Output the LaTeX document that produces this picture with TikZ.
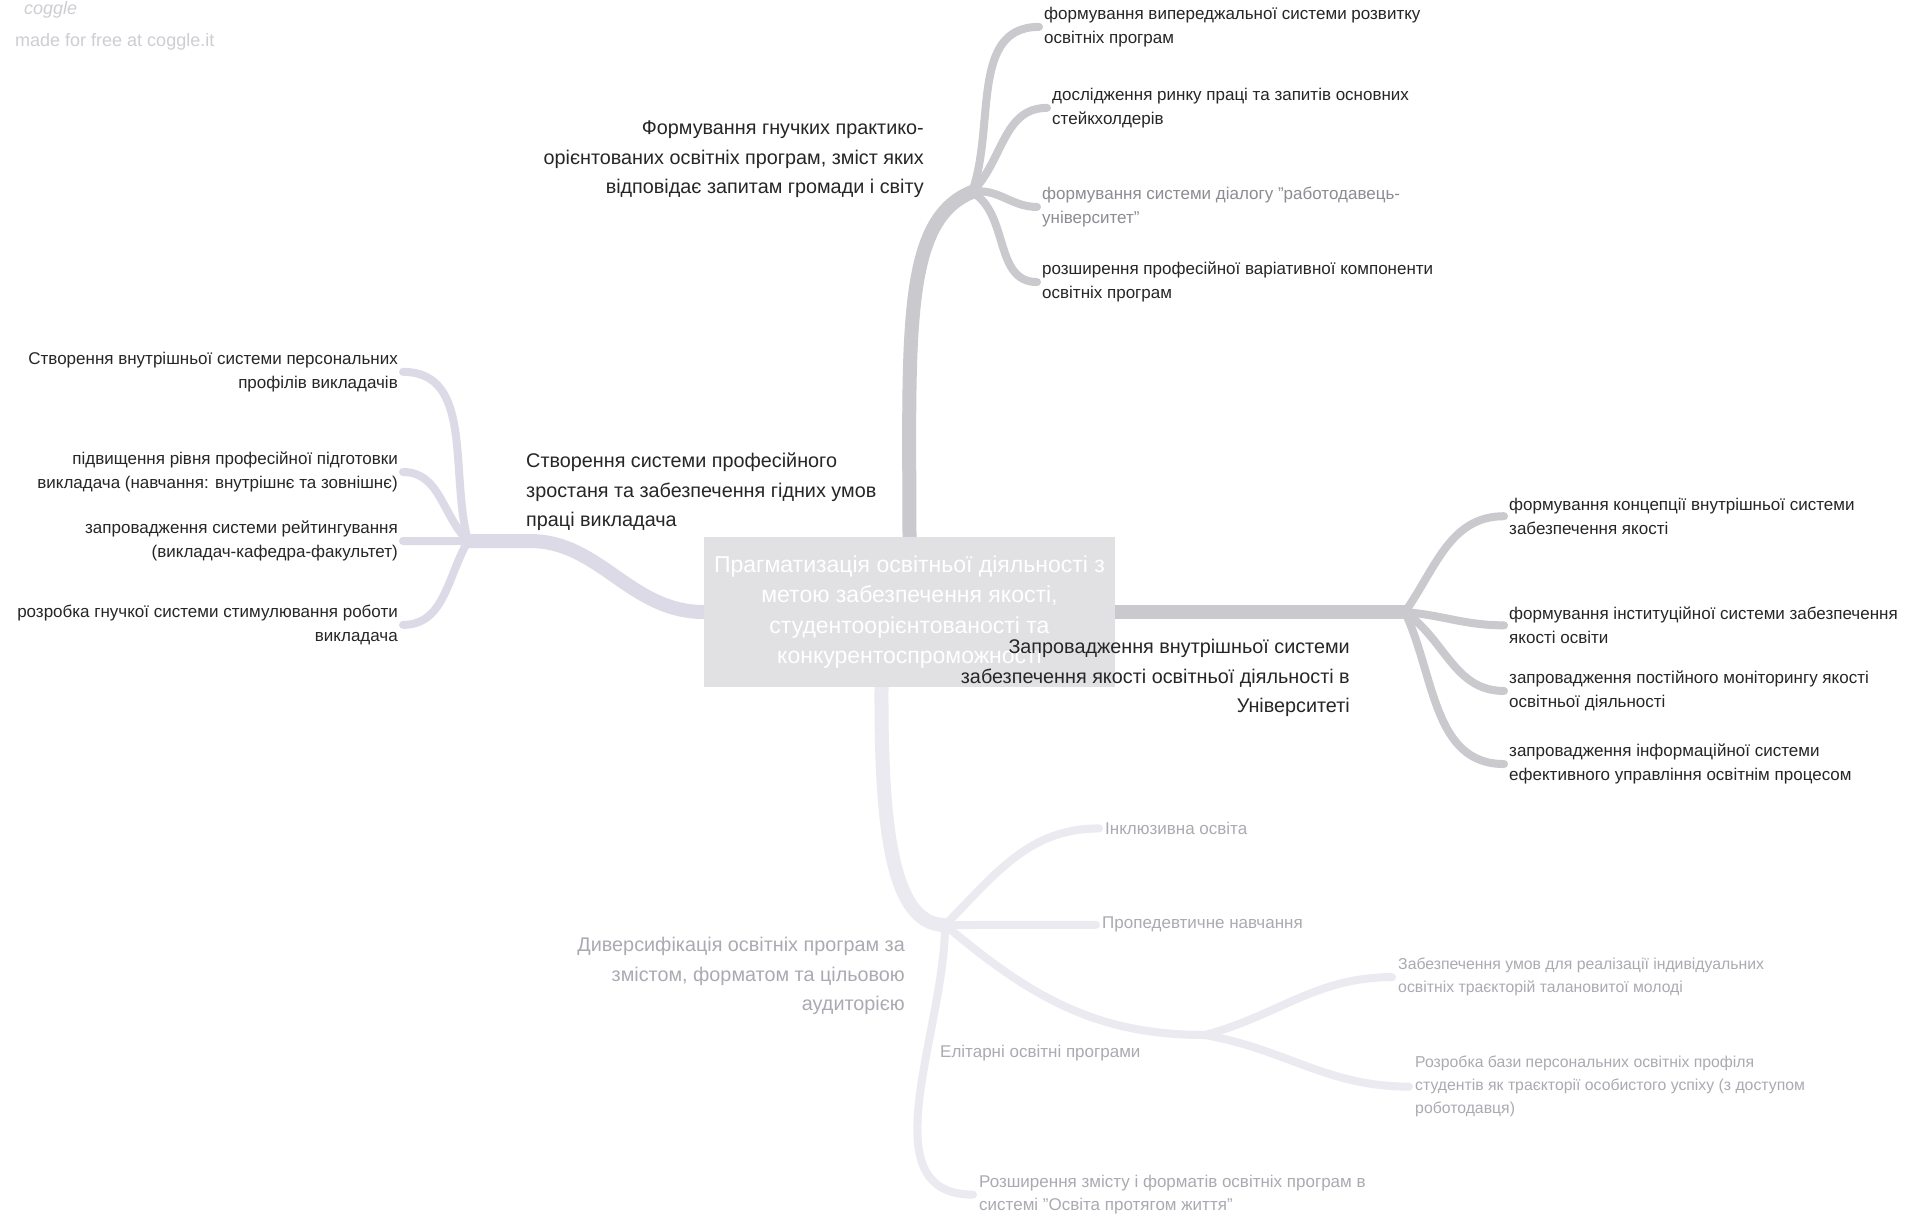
\documentclass[tikz,border=0pt]{standalone}
\usepackage{fontspec}
\setmainfont{Liberation Sans}
\usetikzlibrary{positioning,backgrounds}

\definecolor{branchgrey}{HTML}{C9C9CE}
\definecolor{branchlilac}{HTML}{DCDAE6}
\definecolor{branchpale}{HTML}{EAEAF0}
\definecolor{centrefill}{HTML}{E1E1E4}
\definecolor{inkdark}{HTML}{262626}
\definecolor{inkgrey}{HTML}{8C8C92}
\definecolor{inkpale}{HTML}{AAAAB2}
\definecolor{logogrey}{HTML}{CDCDD4}

\begin{document}
\begin{tikzpicture}[
    x=1pt, y=-1pt,
    every node/.style={inner sep=0pt},
    centrebox/.style={fill=centrefill, text=white, align=center, minimum width=411pt, minimum height=150pt, font=\fontsize{23}{30.5}\selectfont},
    mainlabel/.style={text=inkdark, font=\fontsize{19.8}{29.5}\selectfont},
    leaf/.style={text=inkdark, align=left, anchor=north west, font=\fontsize{17}{23.5}\selectfont},
    leafleft/.style={leaf, align=right, anchor=north east},
    paleleaf/.style={leaf, text=inkpale, font=\fontsize{17}{23}\selectfont},
    trunk/.style={line width=14pt, line cap=round, draw=branchgrey},
    twig/.style={line width=8pt, line cap=round, draw=branchgrey}
]
\useasboundingbox (0,0) rectangle (1914,1219);

% credit
\node[text=logogrey, font=\itshape\fontsize{18}{18}\selectfont, anchor=base west] (logo) at (24,14) {coggle};
\node[text=logogrey, font=\fontsize{18}{20}\selectfont, anchor=north west] (credit) at (15,33) {made for free at coggle.it};

% centre
\node[centrebox] (centre) at (909.5,612) {Прагматизація освітньої діяльності з\\ метою забезпечення якості,\\ студентоорієнтованості та\\ конкурентоспроможності};

% top branch
\node[mainlabel, align=right, anchor=north east] (progs) at (924,121) {Формування гнучких практико-\\ орієнтованих освітніх програм, зміст яких\\ відповідає запитам громади і світу};
\node[leaf] (tl1) at (1044,7) {формування випереджальної системи розвитку\\ освітніх програм};
\node[leaf] (tl2) at (1052,88) {дослідження ринку праці та запитів основних\\ стейкхолдерів};
\node[leaf, text=inkgrey] (tl3) at (1042,187) {формування системи діалогу "работодавець-\\ університет"};
\node[leaf] (tl4) at (1042,262) {розширення професійної варіативної компоненти\\ освітніх програм};

% left branch
\node[mainlabel, align=left, anchor=north west] (staff) at (526,453) {Створення системи професійного\\ зростаня та забезпечення гідних умов\\ праці викладача};
\node[leafleft] (ll1) at (398,352) {Створення внутрішньої системи персональних\\ профілів викладачів};
\node[leafleft] (ll2) at (398,452) {підвищення рівня професійної підготовки\\ викладача (навчання: внутрішнє та зовнішнє)};
\node[leafleft] (ll3) at (398,521) {запровадження системи рейтингування\\ (викладач-кафедра-факультет)};
\node[leafleft] (ll4) at (398,605) {розробка гнучкої системи стимулювання роботи\\ викладача};

% right branch
\node[mainlabel, align=right, anchor=north east] (quality) at (1350,639) {Запровадження внутрішньої системи\\ забезпечення якості освітньої діяльності в\\ Університеті};
\node[leaf] (rl1) at (1509,498) {формування концепції внутрішньої системи\\ забезпечення якості};
\node[leaf] (rl2) at (1509,607) {формування інституційної системи забезпечення\\ якості освіти};
\node[leaf] (rl3) at (1509,671) {запровадження постійного моніторингу якості\\ освітньої діяльності};
\node[leaf] (rl4) at (1509,744) {запровадження інформаційної системи\\ ефективного управління освітнім процесом};

% bottom branch
\node[mainlabel, text=inkpale, align=right, anchor=north east] (divers) at (905,937) {Диверсифікація освітніх програм за\\ змістом, форматом та цільовою\\ аудиторією};
\node[paleleaf] (bl1) at (1105,822) {Інклюзивна освіта};
\node[paleleaf] (bl2) at (1102,917) {Пропедевтичне навчання};
\node[paleleaf] (bl3) at (940,1045) {Елітарні освітні програми};
\node[paleleaf, font=\fontsize{15.8}{23}\selectfont] (bl4) at (1398,958) {Забезпечення умов для реалізації індивідуальних\\ освітніх траєкторій талановитої молоді};
\node[paleleaf, font=\fontsize{15.8}{23}\selectfont] (bl5) at (1415,1056) {Розробка бази персональних освітніх профіля\\ студентів як траєкторії особистого успіху (з доступом\\ роботодавця)};
\node[paleleaf] (bl6) at (979,1175) {Розширення змісту і форматів освітніх програм в\\ системі "Освіта протягом життя"};

\begin{pgfonlayer}{background}
\fill[white] (0,0) rectangle (1914,1219);
% top
\coordinate (jtop) at (972,192);
\draw[trunk] (centre.north) .. controls (909,330) and (903,220) .. (jtop);
\draw[twig] (jtop) to[out=70,in=180] ([xshift=-5pt]tl1.west);
\draw[twig] (jtop) to[out=45,in=180] ([xshift=-5pt]tl2.west);
\draw[twig] (jtop) to[out=10,in=180] ([xshift=-5pt]tl3.west);
\draw[twig] (jtop) to[out=-30,in=180] ([xshift=-5pt]tl4.west);
% left
\coordinate (jleft) at (468,541);
\draw[trunk, draw=branchlilac] (centre.west) .. controls (630,612) and (600,541) .. (530,541) -- (jleft);
\draw[twig, draw=branchlilac] (jleft) to[out=105,in=0] ([xshift=5pt]ll1.east);
\draw[twig, draw=branchlilac] (jleft) to[out=135,in=0] ([xshift=5pt]ll2.east);
\draw[twig, draw=branchlilac] (jleft) to[out=180,in=0] ([xshift=5pt]ll3.east);
\draw[twig, draw=branchlilac] (jleft) to[out=-120,in=0] ([xshift=5pt]ll4.east);
% right
\coordinate (jright) at (1405,612);
\draw[trunk] (centre.east) -- (jright);
\draw[twig] (jright) to[out=55,in=180] ([xshift=-5pt]rl1.west);
\draw[twig] (jright) to[out=-5,in=180] ([xshift=-5pt]rl2.west);
\draw[twig] (jright) to[out=-35,in=180] ([xshift=-5pt]rl3.west);
\draw[twig] (jright) to[out=-65,in=180] ([xshift=-5pt]rl4.west);
% bottom
\coordinate (jbot) at (945,925);
\coordinate (jelite) at (1205,1035);
\draw[trunk, draw=branchpale] ([xshift=-28pt]centre.south) .. controls (881,820) and (890,925) .. (jbot);
\draw[twig, draw=branchpale] (jbot) to[out=45,in=180] ([xshift=-6pt]bl1.west);
\draw[twig, draw=branchpale] (jbot) to[out=0,in=180] ([xshift=-6pt]bl2.west);
\draw[twig, draw=branchpale] (jbot) to[out=-40,in=180] (jelite);
\draw[twig, draw=branchpale] (jelite) to[out=15,in=180] ([xshift=-6pt]bl4.west);
\draw[twig, draw=branchpale] (jelite) to[out=-10,in=180] ([xshift=-6pt]bl5.west);
\draw[twig, draw=branchpale] (jbot) to[out=-90,in=180] ([xshift=-6pt]bl6.west);
\end{pgfonlayer}
\end{tikzpicture}
\end{document}
